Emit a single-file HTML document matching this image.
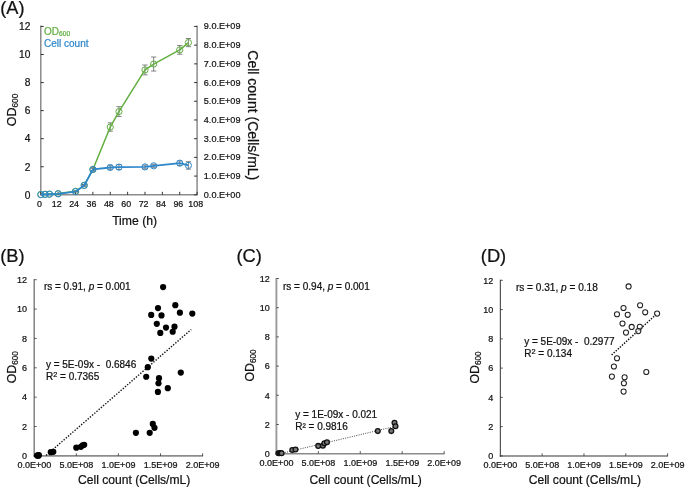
<!DOCTYPE html>
<html><head><meta charset="utf-8"><title>Figure</title>
<style>
html,body{margin:0;padding:0;background:#fff;}
svg{display:block;font-family:"Liberation Sans", sans-serif;will-change:transform;filter:blur(0.5px);}
text{stroke:#111;stroke-width:0.22px;}
text.g{stroke:#62ae40;}
text.b{stroke:#2d87cb;}
</style></head>
<body>
<svg width="685" height="487" viewBox="0 0 685 487">
<rect width="685" height="487" fill="#fff"/>
<text x="0.2" y="14.0" font-size="18.2" fill="#111">(A)</text>
<g stroke="#8c8c8c" stroke-width="1.5" fill="none"><path d="M40.78,25.45 V194.8 H197.1 V25.45"/></g>
<path d="M40.78,194.80 h3 M40.78,166.74 h3 M40.78,138.68 h3 M40.78,110.62 h3 M40.78,82.57 h3 M40.78,54.51 h3 M40.78,26.45 h3 M197.1,194.80 h-3 M197.1,176.09 h-3 M197.1,157.39 h-3 M197.1,138.68 h-3 M197.1,119.98 h-3 M197.1,101.27 h-3 M197.1,82.57 h-3 M197.1,63.86 h-3 M197.1,45.16 h-3 M197.1,26.45 h-3 M40.78,194.8 v-3 M58.15,194.8 v-3 M75.52,194.8 v-3 M92.89,194.8 v-3 M110.26,194.8 v-3 M127.62,194.8 v-3 M144.99,194.8 v-3 M162.36,194.8 v-3 M179.73,194.8 v-3 M197.10,194.8 v-3" stroke="#333" stroke-width="1.0" fill="none"/>
<text x="30.4" y="198.60" font-size="10.2" text-anchor="end" fill="#111">0</text>
<text x="30.4" y="170.54" font-size="10.2" text-anchor="end" fill="#111">2</text>
<text x="30.4" y="142.48" font-size="10.2" text-anchor="end" fill="#111">4</text>
<text x="30.4" y="114.42" font-size="10.2" text-anchor="end" fill="#111">6</text>
<text x="30.4" y="86.37" font-size="10.2" text-anchor="end" fill="#111">8</text>
<text x="30.4" y="58.31" font-size="10.2" text-anchor="end" fill="#111">10</text>
<text x="30.4" y="30.25" font-size="10.2" text-anchor="end" fill="#111">12</text>
<text x="203.8" y="197.80" font-size="9.1" fill="#111">0.0.E+00</text>
<text x="203.8" y="179.09" font-size="9.1" fill="#111">1.0.E+09</text>
<text x="203.8" y="160.39" font-size="9.1" fill="#111">2.0.E+09</text>
<text x="203.8" y="141.68" font-size="9.1" fill="#111">3.0.E+09</text>
<text x="203.8" y="122.98" font-size="9.1" fill="#111">4.0.E+09</text>
<text x="203.8" y="104.27" font-size="9.1" fill="#111">5.0.E+09</text>
<text x="203.8" y="85.57" font-size="9.1" fill="#111">6.0.E+09</text>
<text x="203.8" y="66.86" font-size="9.1" fill="#111">7.0.E+09</text>
<text x="203.8" y="48.16" font-size="9.1" fill="#111">8.0.E+09</text>
<text x="203.8" y="29.45" font-size="9.1" fill="#111">9.0.E+09</text>
<text x="39.38" y="207" font-size="8.9" text-anchor="middle" fill="#111">0</text>
<text x="56.75" y="207" font-size="8.9" text-anchor="middle" fill="#111">12</text>
<text x="74.12" y="207" font-size="8.9" text-anchor="middle" fill="#111">24</text>
<text x="91.49" y="207" font-size="8.9" text-anchor="middle" fill="#111">36</text>
<text x="108.86" y="207" font-size="8.9" text-anchor="middle" fill="#111">48</text>
<text x="126.22" y="207" font-size="8.9" text-anchor="middle" fill="#111">60</text>
<text x="143.59" y="207" font-size="8.9" text-anchor="middle" fill="#111">72</text>
<text x="160.96" y="207" font-size="8.9" text-anchor="middle" fill="#111">84</text>
<text x="178.33" y="207" font-size="8.9" text-anchor="middle" fill="#111">96</text>
<text x="195.70" y="207" font-size="8.9" text-anchor="middle" fill="#111">108</text>
<text x="134.6" y="224.5" font-size="12.2" text-anchor="middle" fill="#111">Time (h)</text>
<text transform="translate(16.0,110.0) rotate(-90)" font-size="12.5" text-anchor="middle" fill="#111">OD<tspan font-size="8.3" dy="2">600</tspan></text>
<text transform="translate(248.0,115.3) rotate(90)" font-size="14" text-anchor="middle" fill="#111">Cell count (Cells/mL)</text>
<text x="44" y="34.6" font-size="10" class="g" fill="#62ae40">OD<tspan font-size="6.7" dy="1.2">600</tspan></text>
<text x="44" y="47.3" font-size="10" class="b" fill="#2d87cb">Cell count</text>
<path d="M75.52,190.87 V191.71 M72.92,190.87 h5.2 M72.92,191.71 h5.2 M84.20,184.42 V186.10 M81.60,184.42 h5.2 M81.60,186.10 h5.2 M92.89,168.14 V170.95 M90.29,168.14 h5.2 M90.29,170.95 h5.2 M110.26,122.83 V131.25 M107.66,122.83 h5.2 M107.66,131.25 h5.2 M118.94,106.70 V116.52 M116.34,106.70 h5.2 M116.34,116.52 h5.2 M144.99,65.03 V74.85 M142.39,65.03 h5.2 M142.39,74.85 h5.2 M153.68,57.03 V71.06 M151.08,57.03 h5.2 M151.08,71.06 h5.2 M179.73,45.53 V54.23 M177.13,45.53 h5.2 M177.13,54.23 h5.2 M188.42,38.52 V46.65 M185.82,38.52 h5.2 M185.82,46.65 h5.2" stroke="#666" stroke-width="0.8" fill="none"/>
<polyline points="40.78,194.52 45.12,194.24 49.46,194.10 58.15,193.54 75.52,191.29 84.20,185.26 92.89,169.55 110.26,127.04 118.94,111.61 144.99,69.94 153.68,64.05 179.73,49.88 188.42,42.58" fill="none" stroke="#62ae40" stroke-width="1.5" stroke-linejoin="round"/>
<circle cx="40.78" cy="194.52" r="3.1" fill="none" stroke="#62ae40" stroke-width="1.0"/>
<circle cx="45.12" cy="194.24" r="3.1" fill="none" stroke="#62ae40" stroke-width="1.0"/>
<circle cx="49.46" cy="194.10" r="3.1" fill="none" stroke="#62ae40" stroke-width="1.0"/>
<circle cx="58.15" cy="193.54" r="3.1" fill="none" stroke="#62ae40" stroke-width="1.0"/>
<circle cx="75.52" cy="191.29" r="3.1" fill="none" stroke="#62ae40" stroke-width="1.0"/>
<circle cx="84.20" cy="185.26" r="3.1" fill="none" stroke="#62ae40" stroke-width="1.0"/>
<circle cx="92.89" cy="169.55" r="3.1" fill="none" stroke="#62ae40" stroke-width="1.0"/>
<circle cx="110.26" cy="127.04" r="3.1" fill="none" stroke="#62ae40" stroke-width="1.0"/>
<circle cx="118.94" cy="111.61" r="3.1" fill="none" stroke="#62ae40" stroke-width="1.0"/>
<circle cx="144.99" cy="69.94" r="3.1" fill="none" stroke="#62ae40" stroke-width="1.0"/>
<circle cx="153.68" cy="64.05" r="3.1" fill="none" stroke="#62ae40" stroke-width="1.0"/>
<circle cx="179.73" cy="49.88" r="3.1" fill="none" stroke="#62ae40" stroke-width="1.0"/>
<circle cx="188.42" cy="42.58" r="3.1" fill="none" stroke="#62ae40" stroke-width="1.0"/>
<path d="M75.52,191.25 V191.99 M72.92,191.25 h5.2 M72.92,191.99 h5.2 M84.20,184.70 V186.20 M81.60,184.70 h5.2 M81.60,186.20 h5.2 M92.89,167.86 V170.86 M90.29,167.86 h5.2 M90.29,170.86 h5.2 M110.26,165.62 V169.36 M107.66,165.62 h5.2 M107.66,169.36 h5.2 M118.94,164.68 V169.55 M116.34,164.68 h5.2 M116.34,169.55 h5.2 M144.99,165.06 V168.80 M142.39,165.06 h5.2 M142.39,168.80 h5.2 M153.68,164.31 V167.30 M151.08,164.31 h5.2 M151.08,167.30 h5.2 M179.73,160.94 V165.43 M177.13,160.94 h5.2 M177.13,165.43 h5.2 M188.42,161.69 V169.17 M185.82,161.69 h5.2 M185.82,169.17 h5.2" stroke="#666" stroke-width="0.8" fill="none"/>
<polyline points="40.78,194.61 45.12,194.43 49.46,194.24 58.15,193.86 75.52,191.62 84.20,185.45 92.89,169.36 110.26,167.49 118.94,167.12 144.99,166.93 153.68,165.81 179.73,163.19 188.42,165.43" fill="none" stroke="#2d87cb" stroke-width="1.8" stroke-linejoin="round"/>
<circle cx="40.78" cy="194.61" r="3.1" fill="none" stroke="#2d87cb" stroke-width="1.0"/>
<circle cx="45.12" cy="194.43" r="3.1" fill="none" stroke="#2d87cb" stroke-width="1.0"/>
<circle cx="49.46" cy="194.24" r="3.1" fill="none" stroke="#2d87cb" stroke-width="1.0"/>
<circle cx="58.15" cy="193.86" r="3.1" fill="none" stroke="#2d87cb" stroke-width="1.0"/>
<circle cx="75.52" cy="191.62" r="3.1" fill="none" stroke="#2d87cb" stroke-width="1.0"/>
<circle cx="84.20" cy="185.45" r="3.1" fill="none" stroke="#2d87cb" stroke-width="1.0"/>
<circle cx="92.89" cy="169.36" r="3.1" fill="none" stroke="#2d87cb" stroke-width="1.0"/>
<circle cx="110.26" cy="167.49" r="3.1" fill="none" stroke="#2d87cb" stroke-width="1.0"/>
<circle cx="118.94" cy="167.12" r="3.1" fill="none" stroke="#2d87cb" stroke-width="1.0"/>
<circle cx="144.99" cy="166.93" r="3.1" fill="none" stroke="#2d87cb" stroke-width="1.0"/>
<circle cx="153.68" cy="165.81" r="3.1" fill="none" stroke="#2d87cb" stroke-width="1.0"/>
<circle cx="179.73" cy="163.19" r="3.1" fill="none" stroke="#2d87cb" stroke-width="1.0"/>
<circle cx="188.42" cy="165.43" r="3.1" fill="none" stroke="#2d87cb" stroke-width="1.0"/>
<text x="0.2" y="261.8" font-size="18.3" fill="#111">(B)</text>
<path d="M33.50,455.9 H203.10" stroke="#8c8c8c" stroke-width="1.6" fill="none"/>
<path d="M34.2,279.20 V456.70" stroke="#7a7a7a" stroke-width="1.4" fill="none"/>
<path d="M34.2,455.90 h2.5 M34.2,426.53 h2.5 M34.2,397.17 h2.5 M34.2,367.80 h2.5 M34.2,338.43 h2.5 M34.2,309.07 h2.5 M34.2,279.70 h2.5 M76.30,455.9 v-2.6 M118.40,455.9 v-2.6 M160.50,455.9 v-2.6 M202.60,455.9 v-2.6" stroke="#333" stroke-width="0.8" fill="none"/>
<text x="26.9" y="459.10" font-size="9.0" text-anchor="end" fill="#111">0</text>
<text x="26.9" y="429.73" font-size="9.0" text-anchor="end" fill="#111">2</text>
<text x="26.9" y="400.37" font-size="9.0" text-anchor="end" fill="#111">4</text>
<text x="26.9" y="371.00" font-size="9.0" text-anchor="end" fill="#111">6</text>
<text x="26.9" y="341.63" font-size="9.0" text-anchor="end" fill="#111">8</text>
<text x="26.9" y="312.27" font-size="9.0" text-anchor="end" fill="#111">10</text>
<text x="26.9" y="282.90" font-size="9.0" text-anchor="end" fill="#111">12</text>
<text x="34.30" y="468.05" font-size="9.0" text-anchor="middle" fill="#111">0.0E+00</text>
<text x="76.40" y="468.05" font-size="9.0" text-anchor="middle" fill="#111">5.0E+08</text>
<text x="118.50" y="468.05" font-size="9.0" text-anchor="middle" fill="#111">1.0E+09</text>
<text x="160.60" y="468.05" font-size="9.0" text-anchor="middle" fill="#111">1.5E+09</text>
<text x="202.70" y="468.05" font-size="9.0" text-anchor="middle" fill="#111">2.0E+09</text>
<text x="134.2" y="484.0" font-size="12.1" text-anchor="middle" fill="#111">Cell count (Cells/mL)</text>
<text transform="translate(15.7,367.2) rotate(-90)" font-size="12.3" text-anchor="middle" fill="#111">OD<tspan font-size="8.2" dy="2">600</tspan></text>
<text x="43.9" y="290.2" font-size="10" fill="#111">rs = 0.91, <tspan font-style="italic">p</tspan> = 0.001</text>
<text x="45.9" y="367.6" font-size="10" fill="#111">y = 5E-09x -&#160; 0.6846</text>
<text x="45.9" y="380.2" font-size="10" fill="#111">R<tspan font-size="7.4" dy="-3.7">2</tspan><tspan dy="3.7"> = 0.7365</tspan></text>
<path d="M46.1,455.4 L191.2,329.5" stroke="#111" stroke-width="1.4" stroke-dasharray="1.4,1.5" fill="none"/>
<circle cx="163.1" cy="287.05" r="3.1" fill="#000"/>
<circle cx="175.3" cy="305.15" r="3.1" fill="#000"/>
<circle cx="158" cy="308.05" r="3.1" fill="#000"/>
<circle cx="179.9" cy="312.65" r="3.1" fill="#000"/>
<circle cx="192.3" cy="313.55" r="3.1" fill="#000"/>
<circle cx="151.2" cy="314.95" r="3.1" fill="#000"/>
<circle cx="161.5" cy="315.45" r="3.1" fill="#000"/>
<circle cx="156.8" cy="323.85" r="3.1" fill="#000"/>
<circle cx="166" cy="327.55" r="3.1" fill="#000"/>
<circle cx="174.5" cy="326.65" r="3.1" fill="#000"/>
<circle cx="172.7" cy="331.75" r="3.1" fill="#000"/>
<circle cx="160.3" cy="332.95" r="3.1" fill="#000"/>
<circle cx="151.3" cy="358.55" r="3.1" fill="#000"/>
<circle cx="147.8" cy="367.15" r="3.1" fill="#000"/>
<circle cx="146.2" cy="376.75" r="3.1" fill="#000"/>
<circle cx="180.8" cy="372.55" r="3.1" fill="#000"/>
<circle cx="159" cy="378.15" r="3.1" fill="#000"/>
<circle cx="158.5" cy="383.25" r="3.1" fill="#000"/>
<circle cx="157.9" cy="391.95" r="3.1" fill="#000"/>
<circle cx="167.8" cy="388.15" r="3.1" fill="#000"/>
<circle cx="152.8" cy="423.95" r="3.1" fill="#000"/>
<circle cx="154.5" cy="427.85" r="3.1" fill="#000"/>
<circle cx="135.9" cy="432.85" r="3.1" fill="#000"/>
<circle cx="149.7" cy="432.85" r="3.1" fill="#000"/>
<circle cx="37.0" cy="455.55" r="3.1" fill="#000"/>
<circle cx="37.9" cy="455.25" r="3.1" fill="#000"/>
<circle cx="38.9" cy="455.15" r="3.1" fill="#000"/>
<circle cx="38.3" cy="455.65" r="3.1" fill="#000"/>
<circle cx="50.8" cy="452.15" r="3.1" fill="#000"/>
<circle cx="53.3" cy="451.85" r="3.1" fill="#000"/>
<circle cx="76.3" cy="447.65" r="3.1" fill="#000"/>
<circle cx="80.9" cy="446.85" r="3.1" fill="#000"/>
<circle cx="82.6" cy="445.25" r="3.1" fill="#000"/>
<circle cx="84.2" cy="444.85" r="3.1" fill="#000"/>
<text x="236.4" y="261.7" font-size="18.3" fill="#111">(C)</text>
<path d="M275.45,453.7 H444.62" stroke="#8c8c8c" stroke-width="1.6" fill="none"/>
<path d="M276.4,278.00 V454.50" stroke="#9a9a9a" stroke-width="1.9" fill="none"/>
<path d="M276.4,453.70 h2.5 M276.4,424.50 h2.5 M276.4,395.30 h2.5 M276.4,366.10 h2.5 M276.4,336.90 h2.5 M276.4,307.70 h2.5 M276.4,278.50 h2.5 M318.33,453.7 v-2.6 M360.26,453.7 v-2.6 M402.19,453.7 v-2.6 M444.12,453.7 v-2.6" stroke="#333" stroke-width="0.8" fill="none"/>
<text x="269.8" y="456.90" font-size="9.0" text-anchor="end" fill="#111">0</text>
<text x="269.8" y="427.70" font-size="9.0" text-anchor="end" fill="#111">2</text>
<text x="269.8" y="398.50" font-size="9.0" text-anchor="end" fill="#111">4</text>
<text x="269.8" y="369.30" font-size="9.0" text-anchor="end" fill="#111">6</text>
<text x="269.8" y="340.10" font-size="9.0" text-anchor="end" fill="#111">8</text>
<text x="269.8" y="310.90" font-size="9.0" text-anchor="end" fill="#111">10</text>
<text x="269.8" y="281.70" font-size="9.0" text-anchor="end" fill="#111">12</text>
<text x="276.50" y="465.85" font-size="9.0" text-anchor="middle" fill="#111">0.0E+00</text>
<text x="318.43" y="465.85" font-size="9.0" text-anchor="middle" fill="#111">5.0E+08</text>
<text x="360.36" y="465.85" font-size="9.0" text-anchor="middle" fill="#111">1.0E+09</text>
<text x="402.29" y="465.85" font-size="9.0" text-anchor="middle" fill="#111">1.5E+09</text>
<text x="444.22" y="465.85" font-size="9.0" text-anchor="middle" fill="#111">2.0E+09</text>
<text x="365.6" y="484.0" font-size="12.1" text-anchor="middle" fill="#111">Cell count (Cells/mL)</text>
<text transform="translate(253.7,365.5) rotate(-90)" font-size="12.3" text-anchor="middle" fill="#111">OD<tspan font-size="8.2" dy="2">600</tspan></text>
<text x="283" y="290.2" font-size="10" fill="#111">rs = 0.94, <tspan font-style="italic">p</tspan> = 0.001</text>
<text x="295.2" y="418" font-size="10" fill="#111">y = 1E-09x - 0.021</text>
<text x="295.2" y="429.8" font-size="10" fill="#111">R² = 0.9816</text>
<path d="M278,454.2 L395.5,426.3" stroke="#333" stroke-width="0.9" stroke-dasharray="1.0,1.3" fill="none"/>
<circle cx="278.4" cy="453.3" r="2.4" fill="#787878" stroke="#111" stroke-width="1.3"/>
<circle cx="279.6" cy="453.1" r="2.4" fill="#787878" stroke="#111" stroke-width="1.3"/>
<circle cx="280.8" cy="453.0" r="2.4" fill="#787878" stroke="#111" stroke-width="1.3"/>
<circle cx="281.6" cy="453.2" r="2.4" fill="#787878" stroke="#111" stroke-width="1.3"/>
<circle cx="292.3" cy="450.0" r="2.4" fill="#787878" stroke="#111" stroke-width="1.3"/>
<circle cx="295.5" cy="449.5" r="2.4" fill="#787878" stroke="#111" stroke-width="1.3"/>
<circle cx="318.2" cy="445.9" r="2.4" fill="#787878" stroke="#111" stroke-width="1.3"/>
<circle cx="322.9" cy="445.8" r="2.4" fill="#787878" stroke="#111" stroke-width="1.3"/>
<circle cx="324.4" cy="443.2" r="2.4" fill="#787878" stroke="#111" stroke-width="1.3"/>
<circle cx="327.0" cy="442.2" r="2.4" fill="#787878" stroke="#111" stroke-width="1.3"/>
<circle cx="377.8" cy="431.1" r="2.4" fill="#787878" stroke="#111" stroke-width="1.3"/>
<circle cx="391.3" cy="431.1" r="2.4" fill="#787878" stroke="#111" stroke-width="1.3"/>
<circle cx="394.5" cy="422.8" r="2.4" fill="#787878" stroke="#111" stroke-width="1.3"/>
<circle cx="395.5" cy="426.2" r="2.4" fill="#787878" stroke="#111" stroke-width="1.3"/>
<text x="480.8" y="261.8" font-size="18.3" fill="#111">(D)</text>
<path d="M499.80,455.9 H668.09" stroke="#777" stroke-width="1.5" fill="none"/>
<path d="M500.35,279.80 V456.65" stroke="#444" stroke-width="1.1" fill="none"/>
<path d="M500.35,455.90 h2.5 M500.35,426.63 h2.5 M500.35,397.37 h2.5 M500.35,368.10 h2.5 M500.35,338.83 h2.5 M500.35,309.57 h2.5 M500.35,280.30 h2.5 M542.16,455.9 v-2.6 M583.97,455.9 v-2.6 M625.78,455.9 v-2.6 M667.59,455.9 v-2.6" stroke="#333" stroke-width="0.8" fill="none"/>
<text x="493.2" y="459.10" font-size="9.0" text-anchor="end" fill="#111">0</text>
<text x="493.2" y="429.83" font-size="9.0" text-anchor="end" fill="#111">2</text>
<text x="493.2" y="400.57" font-size="9.0" text-anchor="end" fill="#111">4</text>
<text x="493.2" y="371.30" font-size="9.0" text-anchor="end" fill="#111">6</text>
<text x="493.2" y="342.03" font-size="9.0" text-anchor="end" fill="#111">8</text>
<text x="493.2" y="312.77" font-size="9.0" text-anchor="end" fill="#111">10</text>
<text x="493.2" y="283.50" font-size="9.0" text-anchor="end" fill="#111">12</text>
<text x="500.45" y="468.05" font-size="9.0" text-anchor="middle" fill="#111">0.0E+00</text>
<text x="542.26" y="468.05" font-size="9.0" text-anchor="middle" fill="#111">5.0E+08</text>
<text x="584.07" y="468.05" font-size="9.0" text-anchor="middle" fill="#111">1.0E+09</text>
<text x="625.88" y="468.05" font-size="9.0" text-anchor="middle" fill="#111">1.5E+09</text>
<text x="667.69" y="468.05" font-size="9.0" text-anchor="middle" fill="#111">2.0E+09</text>
<text x="584.8" y="484.0" font-size="12.1" text-anchor="middle" fill="#111">Cell count (Cells/mL)</text>
<text transform="translate(478.7,367.5) rotate(-90)" font-size="12.3" text-anchor="middle" fill="#111">OD<tspan font-size="8.2" dy="2">600</tspan></text>
<text x="515.9" y="290.5" font-size="10.1" fill="#111">rs = 0.31, <tspan font-style="italic">p</tspan> = 0.18</text>
<text x="524.2" y="345.2" font-size="10" fill="#111">y = 5E-09x -&#160; 0.2977</text>
<text x="524.2" y="357.2" font-size="10" fill="#111">R<tspan font-size="7.4" dy="-3.7">2</tspan><tspan dy="3.7"> = 0.134</tspan></text>
<path d="M611.6,354.9 L657.1,313.6" stroke="#111" stroke-width="1.5" stroke-dasharray="1.4,1.4" fill="none"/>
<circle cx="628.6" cy="286.4" r="2.55" fill="#fff" fill-opacity="0.5" stroke="#222" stroke-width="1.05"/>
<circle cx="640.1" cy="305.2" r="2.55" fill="#fff" fill-opacity="0.5" stroke="#222" stroke-width="1.05"/>
<circle cx="623.5" cy="308.0" r="2.55" fill="#fff" fill-opacity="0.5" stroke="#222" stroke-width="1.05"/>
<circle cx="645.2" cy="312.3" r="2.55" fill="#fff" fill-opacity="0.5" stroke="#222" stroke-width="1.05"/>
<circle cx="657.1" cy="313.6" r="2.55" fill="#fff" fill-opacity="0.5" stroke="#222" stroke-width="1.05"/>
<circle cx="617.0" cy="314.2" r="2.55" fill="#fff" fill-opacity="0.5" stroke="#222" stroke-width="1.05"/>
<circle cx="627.7" cy="314.8" r="2.55" fill="#fff" fill-opacity="0.5" stroke="#222" stroke-width="1.05"/>
<circle cx="622.5" cy="323.5" r="2.55" fill="#fff" fill-opacity="0.5" stroke="#222" stroke-width="1.05"/>
<circle cx="631.7" cy="326.9" r="2.55" fill="#fff" fill-opacity="0.5" stroke="#222" stroke-width="1.05"/>
<circle cx="639.8" cy="326.7" r="2.55" fill="#fff" fill-opacity="0.5" stroke="#222" stroke-width="1.05"/>
<circle cx="638.3" cy="331.1" r="2.55" fill="#fff" fill-opacity="0.5" stroke="#222" stroke-width="1.05"/>
<circle cx="626.0" cy="332.6" r="2.55" fill="#fff" fill-opacity="0.5" stroke="#222" stroke-width="1.05"/>
<circle cx="617.0" cy="358.2" r="2.55" fill="#fff" fill-opacity="0.5" stroke="#222" stroke-width="1.05"/>
<circle cx="613.9" cy="366.5" r="2.55" fill="#fff" fill-opacity="0.5" stroke="#222" stroke-width="1.05"/>
<circle cx="611.9" cy="376.6" r="2.55" fill="#fff" fill-opacity="0.5" stroke="#222" stroke-width="1.05"/>
<circle cx="646.3" cy="372.0" r="2.55" fill="#fff" fill-opacity="0.5" stroke="#222" stroke-width="1.05"/>
<circle cx="624.6" cy="377.3" r="2.55" fill="#fff" fill-opacity="0.5" stroke="#222" stroke-width="1.05"/>
<circle cx="623.9" cy="383.2" r="2.55" fill="#fff" fill-opacity="0.5" stroke="#222" stroke-width="1.05"/>
<circle cx="623.6" cy="391.6" r="2.55" fill="#fff" fill-opacity="0.5" stroke="#222" stroke-width="1.05"/>
</svg>
</body></html>
